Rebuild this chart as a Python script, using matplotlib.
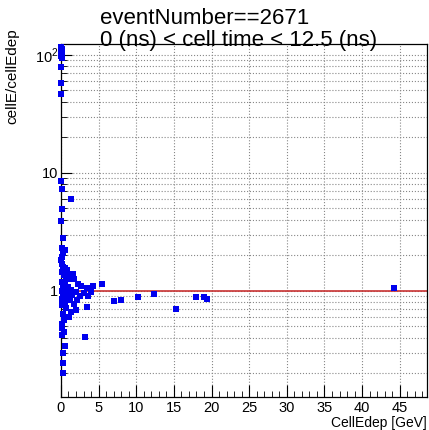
import numpy as np
import matplotlib
matplotlib.use("Agg")
import matplotlib.pyplot as plt
from matplotlib.ticker import FixedLocator, FuncFormatter, LogLocator, MultipleLocator

plt.rcParams['font.family'] = ['Liberation Sans', 'DejaVu Sans']
plt.rcParams['mathtext.fontset'] = 'custom'
plt.rcParams['mathtext.rm'] = 'Liberation Sans'

# cell energy deposit [GeV]
cellEdep = [0.05, 0.1, 0.05, 0.1, 0.05, 0.1, 0.05, 0.05, 0.05,
            0.05, 0.2, 1.4, 0.2, 0.05, 0.3, 0.1, 0.6, 0.3, 0.2, 0.05,
            0.1, 0.3, 0.5, 0.8, 0.2, 1.2, 1.6, 0.4, 0.7, 1.0, 1.5, 1.8, 0.2, 0.5,
            2.3, 2.7, 0.3, 0.9, 4.2, 5.4, 3.5, 1.3, 0.1, 0.6, 2.0, 3.0, 4.0, 1.0,
            0.3, 1.5, 2.5, 3.6, 0.8, 0.2, 1.2, 2.2, 0.5, 1.8, 0.1, 3.4, 0.7, 2.0,
            1.3, 0.3, 1.1, 0.4, 0.2, 0.1, 0.4, 0.2, 3.2, 0.6, 0.3, 0.3, 0.3,
            7.1, 8.0, 10.3, 12.3, 15.3, 18.0, 19.0, 19.4, 44.2]
# ratio cellE/cellEdep
ratio = [117, 112, 107, 103, 98, 95, 79, 58, 47,
         8.6, 7.3, 6.0, 4.9, 3.9, 2.8, 2.3, 2.2, 2.1, 1.95, 1.83,
         1.7, 1.6, 1.55, 1.5, 1.45, 1.4, 1.4, 1.35, 1.3, 1.25, 1.25, 1.25, 1.2, 1.18,
         1.15, 1.1, 1.1, 1.08, 1.10, 1.15, 1.05, 1.02, 1.0, 0.98, 0.97, 0.96, 0.97, 0.95,
         0.93, 0.92, 0.9, 0.9, 0.88, 0.86, 0.84, 0.83, 0.8, 0.78, 0.76, 0.73, 0.72, 0.69,
         0.66, 0.64, 0.60, 0.57, 0.52, 0.48, 0.45, 0.42, 0.41, 0.34, 0.30, 0.245, 0.20,
         0.82, 0.84, 0.89, 0.94, 0.70, 0.89, 0.89, 0.86, 1.06]

xmin, xmax = 0, 48.6
ymin, ymax = 0.126, 124

fig = plt.figure(figsize=(4.29, 4.30), dpi=100)
ax = fig.add_axes([0.142, 0.0767, 0.853, 0.8213])

ax.set_yscale('log')
ax.set_xlim(xmin, xmax)
ax.set_ylim(ymin, ymax)

# grid
ax.xaxis.set_major_locator(MultipleLocator(5))
ax.xaxis.set_minor_locator(MultipleLocator(1))
ax.yaxis.set_major_locator(FixedLocator([1, 10, 100]))
ax.yaxis.set_minor_locator(LogLocator(base=10, subs=np.arange(2, 10), numticks=20))
ax.grid(True, which='major', axis='x', color='#888888', linestyle=':', linewidth=0.8)
ax.grid(True, which='both', axis='y', color='#888888', linestyle=':', linewidth=0.8)
ax.set_axisbelow(True)

ax.plot([xmin, xmax], [1, 1], color='#c83232', linewidth=1.2, zorder=2)
ax.plot(cellEdep, ratio, 's', color='#0000ee', markersize=3.8, markeredgewidth=0,
        zorder=3, clip_on=False)

def ylab(v, pos):
    if v == 1:
        return '1'
    if v == 10:
        return '10'
    if v == 100:
        return r'$10^{2}$'
    return ''
ax.yaxis.set_major_formatter(FuncFormatter(ylab))

ax.tick_params(axis='both', which='major', direction='in', labelsize=10.5)
ax.tick_params(axis='x', which='major', length=9, pad=3)
ax.tick_params(axis='x', which='minor', direction='in', length=4.5)
ax.tick_params(axis='y', which='major', length=8, pad=2)
ax.tick_params(axis='y', which='minor', direction='in', length=4)
ax.tick_params(top=False, right=False, which='both')

for s in ax.spines.values():
    s.set_linewidth(0.9)

fig.text(0.995, 0.0, 'CellEdep [GeV]', ha='right', va='bottom', fontsize=10)
fig.text(0.028, 0.935, 'cellE/cellEdep', ha='center', va='top', rotation=90, fontsize=11)

fig.text(0.233, 0.957, 'eventNumber==2671', ha='left', va='center', fontsize=16)
fig.text(0.233, 0.905, '0 (ns) < cell time < 12.5 (ns)', ha='left', va='center', fontsize=16,
         zorder=5)

fig.savefig('out.png', dpi=100)
